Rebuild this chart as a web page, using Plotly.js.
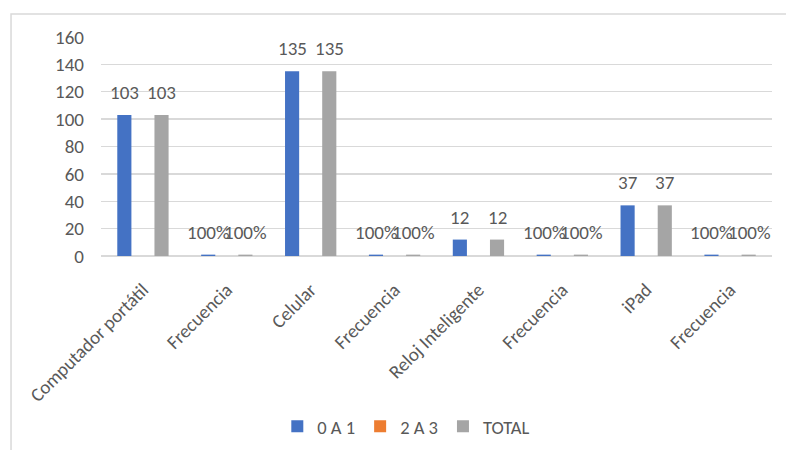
<!DOCTYPE html>
<html>
<head>
<meta charset="utf-8">
<script src="https://cdn.plot.ly/plotly-3.0.1.min.js"></script>
<style>
  html, body { margin: 0; padding: 0; background: #ffffff; }
  #chart { width: 786px; height: 450px; }
</style>
</head>
<body>
<div id="chart"></div>
<script>
// Device categories; each one is followed by its "Frecuencia" share row
const categories = ['Computador portátil', 'Frecuencia', 'Celular', 'Frecuencia',
                    'Reloj Inteligente', 'Frecuencia', 'iPad', 'Frecuencia'];
// true where the row holds a share (shown as a percentage)
const isShare = [false, true, false, true, false, true, false, true];

const seriesNames = ['0 A 1', '2 A 3', 'TOTAL'];
const values0a1   = [103, 1, 135, 1, 12, 1, 37, 1];
const values2a3   = [0, 0, 0, 0, 0, 0, 0, 0];
const valuesTotal = [103, 1, 135, 1, 12, 1, 37, 1];

const yTicks = [0, 20, 40, 60, 80, 100, 120, 140, 160];

const colors = ['#4472C4', '#ED7D31', '#A5A5A5'];
const textColor = '#595959';
const fontFamily = 'Calibri, Carlito, Lato, "Liberation Sans", sans-serif';
const fontSize = 19;

const xIdx = categories.map((_, i) => i);
const bargap = 0.335;
const bargroupgap = 0.24;
const slot = (1 - bargap) / 3;

function fmt(v, i) {
  return isShare[i] ? Math.round(v * 100) + '%' : String(v);
}

const allSeries = [values0a1, values2a3, valuesTotal];
const traces = allSeries.map((vals, k) => ({
  type: 'bar',
  name: seriesNames[k],
  x: xIdx,
  y: vals,
  marker: { color: colors[k] },
  hoverinfo: 'skip'
}));

// Value labels above the labelled series (0 A 1 and TOTAL)
const annotations = [];
[[values0a1, -slot], [valuesTotal, slot]].forEach(([vals, dx]) => {
  vals.forEach((v, i) => {
    annotations.push({
      x: i + dx, y: v, xref: 'x', yref: 'y',
      text: fmt(v, i), showarrow: false,
      xanchor: 'center', yanchor: 'bottom', yshift: 9,
      font: { family: fontFamily, size: fontSize, color: textColor }
    });
  });
});

const layout = {
  width: 786, height: 450,
  margin: { l: 101, r: 14, t: 37, b: 194, autoexpand: false },
  paper_bgcolor: '#ffffff', plot_bgcolor: '#ffffff',
  barmode: 'group', bargap: bargap, bargroupgap: bargroupgap,
  showlegend: true,
  legend: {
    orientation: 'h', x: 0.455, xanchor: 'center', y: -0.78, yanchor: 'middle',
    font: { family: fontFamily, size: 18.5, color: textColor },
    itemwidth: 30, traceorder: 'normal'
  },
  xaxis: {
    range: [-0.5, 7.5],
    tickmode: 'array', tickvals: xIdx, ticktext: categories,
    tickangle: -45, showgrid: false, zeroline: false,
    showline: false, ticks: '', ticklabelstandoff: 18,
    tickfont: { family: fontFamily, size: fontSize, color: textColor },
    fixedrange: true
  },
  yaxis: {
    range: [0, 160],
    tickmode: 'array', tickvals: yTicks,
    showgrid: true, gridcolor: '#D9D9D9', gridwidth: 1.3,
    zeroline: true, zerolinecolor: '#D9D9D9', zerolinewidth: 1.3,
    showline: false, ticks: '', ticklabelstandoff: 16,
    tickfont: { family: fontFamily, size: fontSize, color: textColor },
    fixedrange: true
  },
  annotations: annotations,
  shapes: [{
    type: 'path', xref: 'paper', yref: 'paper',
    path: 'M -0.1341,-0.886 L -0.1341,1.105 L 1.03,1.105',
    line: { color: '#D9D9D9', width: 1.5 }
  }]
};

Plotly.newPlot('chart', traces, layout, { displayModeBar: false, staticPlot: true });
</script>
</body>
</html>
